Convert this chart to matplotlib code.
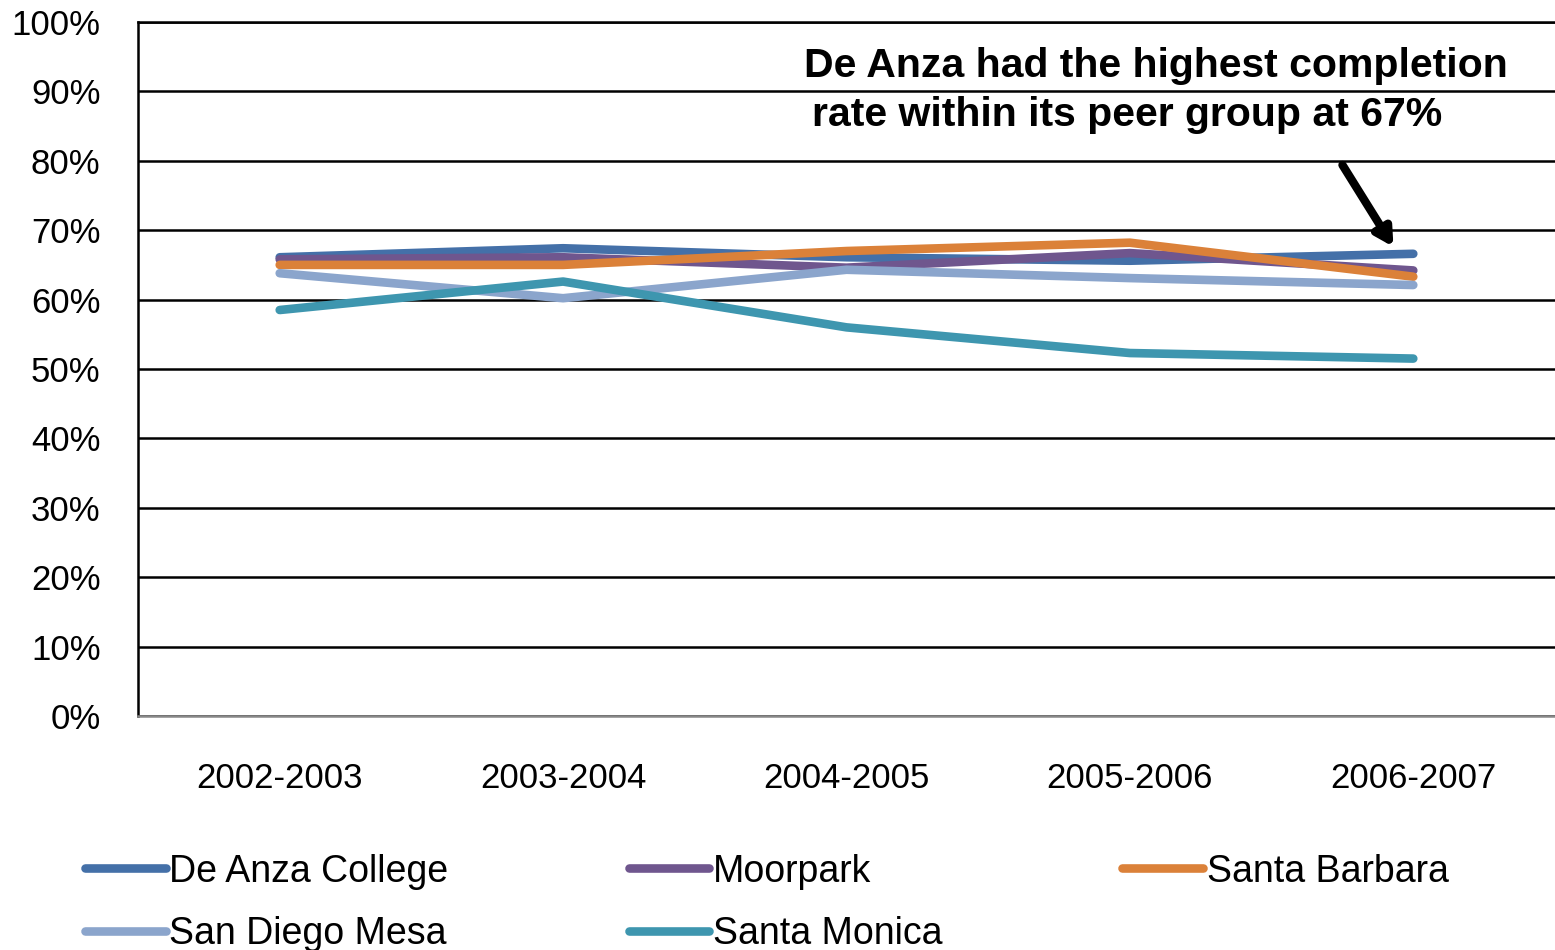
import numpy as np
import matplotlib
matplotlib.use("Agg")
import matplotlib.pyplot as plt
from matplotlib.ticker import PercentFormatter

plt.rcParams["font.family"] = ["Liberation Sans", "DejaVu Sans"]

years = ["2002-2003", "2003-2004", "2004-2005", "2005-2006", "2006-2007"]
de_anza = [66.1, 67.4, 66.1, 65.6, 66.6]
moorpark = [65.8, 66.1, 64.6, 66.7, 64.2]
santa_barbara = [65.0, 65.0, 67.0, 68.2, 63.3]
san_diego_mesa = [63.8, 60.2, 64.3, 63.1, 62.1]
santa_monica = [58.5, 62.6, 56.0, 52.3, 51.5]

series = [
    ("De Anza College", de_anza, "#4470A8"),
    ("Moorpark", moorpark, "#6F568E"),
    ("Santa Barbara", santa_barbara, "#DB8139"),
    ("San Diego Mesa", san_diego_mesa, "#8BA5CC"),
    ("Santa Monica", santa_monica, "#3E96AF"),
]

fig = plt.figure(figsize=(15.55, 9.5), dpi=100)
ax = fig.add_axes([138 / 1555, 1 - 716 / 950, 1417 / 1555, 694 / 950])

x = np.arange(len(years))
handles = {}
for name, vals, color in series:
    (h,) = ax.plot(x, vals, color=color, lw=6.2, solid_capstyle="round",
                   solid_joinstyle="round", label=name)
    handles[name] = h

ax.set_xlim(-0.5, 4.5)
ax.set_ylim(0, 100)
ax.set_yticks(np.arange(0, 101, 10))
ax.yaxis.set_major_formatter(PercentFormatter(decimals=0))
ax.set_xticks(x)
ax.set_xticklabels(years)
ax.tick_params(axis="both", length=0, labelsize=25)
ax.tick_params(axis="x", pad=33)
ax.tick_params(axis="y", pad=27)
ax.grid(axis="y", color="black", lw=1.8)
ax.set_axisbelow(True)
ax.spines["right"].set_visible(False)
ax.spines["top"].set_linewidth(1.8)
ax.spines["left"].set_linewidth(1.8)
ax.spines["bottom"].set_color("#888888")
ax.spines["bottom"].set_linewidth(1.8)

ax.text(3.09, 93.6, "De Anza had the highest completion",
        ha="center", va="center", fontsize=29.5, fontweight="bold")
ax.text(2.99, 86.6, "rate within its peer group at 67%",
        ha="center", va="center", fontsize=29.5, fontweight="bold")
ax.annotate("", xy=(3.93, 67.6), xytext=(3.75, 79.4),
            arrowprops=dict(arrowstyle="-|>,head_length=1.0,head_width=0.55",
                            color="black", lw=6, shrinkA=0, shrinkB=0))

order = ["De Anza College", "San Diego Mesa", "Moorpark", "Santa Monica", "Santa Barbara"]
fig.legend([handles[n] for n in order], order, ncol=3, loc="center left",
           bbox_to_anchor=(85 / 1555, 1 - 903 / 950), frameon=False,
           fontsize=27, handlelength=2.15, handletextpad=0.1,
           labelspacing=0.72, columnspacing=4.8, borderaxespad=0, borderpad=0)

fig.savefig("out.png", dpi=100)
